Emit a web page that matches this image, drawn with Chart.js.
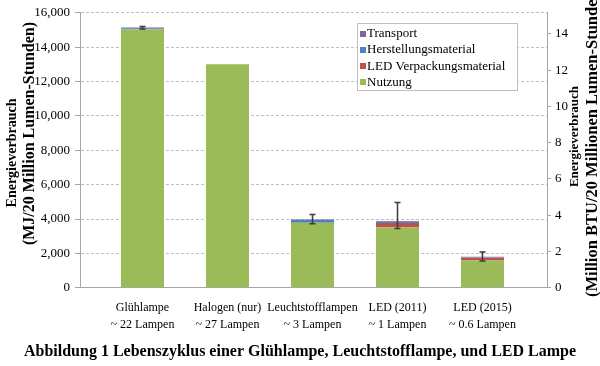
<!DOCTYPE html>
<html><head><meta charset="utf-8">
<script src="https://cdn.jsdelivr.net/npm/chart.js@4"></script>
<style>html,body{margin:0;padding:0;background:#fff}#wrap{width:600px;height:366px;position:relative}</style>
</head><body><div id="wrap"><canvas id="c" width="600" height="366"></canvas></div>
<script>
// ---- data ----
const categories = [
  ['Glühlampe', '~ 22 Lampen'],
  ['Halogen (nur)', '~ 27 Lampen'],
  ['Leuchtstofflampen', '~ 3 Lampen'],
  ['LED (2011)', '~ 1 Lampen'],
  ['LED (2015)', '~ 0.6 Lampen']
];
const nutzung      = [15040, 13000, 3780, 3530, 1595];
const verpackung   = [0, 0, 0, 245, 155];
const herstellung  = [60, 0, 170, 70, 30];
const transport    = [50, 0, 30, 40, 30];
const errLow       = [15060, null, 3720, 3455, 1555];
const errHigh      = [15200, null, 4270, 4970, 2090];
const leftTicks    = [0, 2000, 4000, 6000, 8000, 10000, 12000, 14000, 16000];
const rightTicks   = [0, 2, 4, 6, 8, 10, 12, 14];
const leftTitle    = ['Energieverbrauch', '(MJ/20 Million Lumen-Stunden)'];
const rightTitle   = ['Energieverbrauch', '(Million BTU/20 Millionen Lumen-Stunden)'];
const caption      = 'Abbildung 1 Lebenszyklus einer Glühlampe, Leuchtstofflampe, und LED Lampe';
const MJ_TO_MBTU   = 0.00094782;

const SERIF = "'Liberation Serif', 'Times New Roman', serif";
const AXIS = '#A6A6A6';
const GRID = '#BFBFBF';

const toPts = arr => arr.map((v, i) => ({x: i, y: v}));

const datasets = [
  {label: 'Nutzung', data: toPts(nutzung), backgroundColor: '#9BBB59'},
  {label: 'LED Verpackungsmaterial', data: toPts(verpackung), backgroundColor: '#C0504D'},
  {label: 'Herstellungsmaterial', data: toPts(herstellung), backgroundColor: '#4F81BD'},
  {label: 'Transport', data: toPts(transport), backgroundColor: '#8064A2'}
];

const errorBars = {
  id: 'errorBars',
  afterDatasetsDraw(chart) {
    const {ctx, scales: {x, y}} = chart;
    ctx.save();
    ctx.strokeStyle = '#3A3A3A';
    ctx.lineWidth = 1.5;
    errLow.forEach((lo, i) => {
      if (lo == null) return;
      const px = Math.round(x.getPixelForValue(i)) + 0.5;
      const y1 = y.getPixelForValue(errHigh[i]);
      const y2 = y.getPixelForValue(lo);
      ctx.beginPath();
      ctx.moveTo(px, y1); ctx.lineTo(px, y2);
      ctx.moveTo(px - 3, y1); ctx.lineTo(px + 3, y1);
      ctx.moveTo(px - 3, y2); ctx.lineTo(px + 3, y2);
      ctx.stroke();
    });
    ctx.restore();
  }
};

const boxLegend = {
  id: 'boxLegend',
  afterDraw(chart) {
    const ctx = chart.ctx;
    const bx = 357, by = 23, bw = 160, bh = 67;
    ctx.save();
    ctx.fillStyle = '#fff';
    ctx.fillRect(bx, by, bw, bh);
    ctx.strokeStyle = GRID;
    ctx.lineWidth = 1;
    ctx.strokeRect(bx + 0.5, by + 0.5, bw, bh);
    ctx.font = '13px ' + SERIF;
    ctx.textBaseline = 'middle';
    const items = chart.data.datasets.slice().reverse();
    items.forEach((ds, k) => {
      const cy = 33.5 + k * 16.3;
      ctx.fillStyle = ds.backgroundColor;
      ctx.fillRect(360, Math.round(cy - 3), 6, 6);
      ctx.fillStyle = '#000';
      ctx.fillText(ds.label, 367, cy);
    });
    ctx.restore();
  }
};

function rotText(ctx, text, x, y, size, align) {
  ctx.save();
  ctx.font = 'bold ' + size + 'px ' + SERIF;
  ctx.fillStyle = '#000';
  ctx.textBaseline = 'middle';
  ctx.textAlign = align;
  ctx.translate(x, y);
  ctx.rotate(-Math.PI / 2);
  ctx.fillText(text, 0, 0);
  ctx.restore();
}

const axisTitles = {
  id: 'axisTitles',
  afterDraw(chart) {
    const ctx = chart.ctx;
    rotText(ctx, leftTitle[0], 12, 153, 14, 'center');
    rotText(ctx, leftTitle[1], 30, 133.5, 16, 'center');
    rotText(ctx, rightTitle[0], 575, 136.5, 13, 'center');
    rotText(ctx, rightTitle[1], 593, 297, 16.5, 'left');
  }
};

new Chart(document.getElementById('c'), {
  type: 'bar',
  data: {datasets},
  options: {
    responsive: false,
    animation: false,
    devicePixelRatio: 1,
    layout: {padding: {top: 7, left: 0, right: 0, bottom: 0}},
    datasets: {bar: {categoryPercentage: 1, barPercentage: 0.506}},
    plugins: {
      legend: {display: false},
      tooltip: {enabled: false},
      title: {
        display: true, position: 'bottom', text: caption, color: '#000',
        font: {family: SERIF, size: 16, weight: 'bold', lineHeight: 1.2},
        padding: {top: 0, bottom: 5}
      }
    },
    scales: {
      x: {
        type: 'linear', stacked: true, min: -0.735, max: 4.759, offset: false,
        grid: {display: false, offset: false},
        border: {display: true, color: AXIS, width: 1},
        afterBuildTicks: s => { s.ticks = categories.map((c, i) => ({value: i})); },
        afterFit: s => { s.height = 54; },
        ticks: {
          color: '#000', padding: 4, maxRotation: 0, autoSkip: false,
          font: {family: SERIF, size: 12, lineHeight: 17 / 12},
          callback: v => categories[v]
        }
      },
      y: {
        type: 'linear', position: 'left', stacked: true, min: 0, max: 16000,
        afterBuildTicks: s => { s.ticks = leftTicks.map(v => ({value: v})); },
        afterFit: s => { s.width = 80; },
        grid: {color: GRID, lineWidth: 1, drawTicks: true, tickLength: 5, tickColor: AXIS, tickBorderDash: []},
        border: {display: true, color: AXIS, width: 1, dash: [3, 2]},
        ticks: {
          color: '#000', padding: 5,
          font: {family: SERIF, size: 13},
          callback: v => v.toLocaleString('en-US')
        }
      },
      y2: {
        type: 'linear', position: 'right', min: 0, max: 16000 * MJ_TO_MBTU,
        afterBuildTicks: s => { s.ticks = rightTicks.map(v => ({value: v})); },
        afterFit: s => { s.width = 53; },
        grid: {drawOnChartArea: false, drawTicks: true, tickLength: 4, color: AXIS, tickColor: AXIS},
        border: {display: true, color: AXIS, width: 1},
        ticks: {color: '#000', padding: 4, font: {family: SERIF, size: 13}}
      }
    }
  },
  plugins: [errorBars, boxLegend, axisTitles]
});
</script>
</body></html>
